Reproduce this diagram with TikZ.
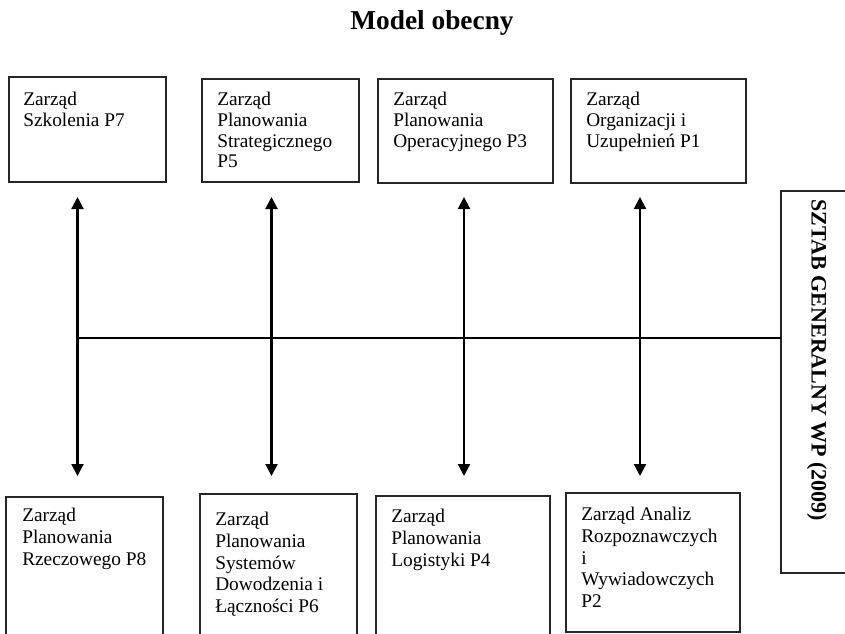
\documentclass[tikz,border=0pt]{standalone}
\usepackage{fontspec}
\setmainfont{Liberation Serif}
\usetikzlibrary{arrows.meta}
\begin{document}
\begin{tikzpicture}[x=0.75pt,y=-0.75pt,
  box/.style={draw=black!85, line width=0.8pt, inner sep=0pt, outer sep=0pt, anchor=north west},
  lbl/.style={anchor=north west, inner sep=0pt, align=left, font=\fontsize{14.5}{15.5}\selectfont},
  lblb/.style={lbl, font=\fontsize{14.5}{16.25}\selectfont},
  tip/.style={Triangle[width=9pt,length=9pt]},
  arr/.style={line width=1.6pt, {Triangle[width=9pt,length=9pt]}-{Triangle[width=9pt,length=9pt]}},
  arrup/.style={line width=1.6pt, -{Triangle[width=9pt,length=9pt]}},
  thinline/.style={line width=0.8pt}]
\useasboundingbox (0,0) rectangle (845,633);
\clip (0,0) rectangle (845,633);

% title
\node[anchor=base, inner sep=0pt] (title) at (432,29) {\bfseries\fontsize{20.5}{24}\selectfont Model obecny};

% top boxes
\node[box, minimum width=157*0.75pt, minimum height=105*0.75pt] (b1) at (9,77) {};
\node[box, minimum width=157*0.75pt, minimum height=103*0.75pt] (b2) at (202,79) {};
\node[box, minimum width=175*0.75pt, minimum height=104*0.75pt] (b3) at (378,79) {};
\node[box, minimum width=175*0.75pt, minimum height=104*0.75pt] (b4) at (571,79) {};

\node[lbl] (t1) at (23,92) {Zarząd\\Szkolenia P7};
\node[lbl] (t2) at (217,92) {Zarząd\\Planowania\\Strategicznego\\P5};
\node[lbl] (t3) at (393,92) {Zarząd\\Planowania\\Operacyjnego P3};
\node[lbl] (t4) at (586,92) {Zarząd\\Organizacji i\\Uzupełnień P1};

% bottom boxes
\node[box, minimum width=157*0.75pt, minimum height=160*0.75pt] (b5) at (6,497) {};
\node[box, minimum width=157*0.75pt, minimum height=160*0.75pt] (b6) at (200,494) {};
\node[box, minimum width=174*0.75pt, minimum height=160*0.75pt] (b7) at (376,496) {};
\node[box, minimum width=174*0.75pt, minimum height=139*0.75pt] (b8) at (566,493) {};

\node[lblb] (t5) at (22,508) {Zarząd\\Planowania\\Rzeczowego P8};
\node[lblb] (t6) at (215,512) {Zarząd\\Planowania\\Systemów\\Dowodzenia i\\Łączności P6};
\node[lblb] (t7) at (391,509) {Zarząd\\Planowania\\Logistyki P4};
\node[lblb] (t8) at (581,507) {Zarząd Analiz\\Rozpoznawczych\\i\\Wywiadowczych\\P2};

% right box
\node[box, minimum width=100*0.75pt, minimum height=382*0.75pt] (sz) at (781,191) {};
\node[rotate=-90, inner sep=0pt] (szt) at (817,360.5) {\bfseries\fontsize{16.5}{19}\selectfont SZTAB GENERALNY WP (2009)};

% arrow ends
\coordinate (a1t) at (77.5,197);  \coordinate (a1b) at (77.5,476);
\coordinate (a2t) at (271.5,197); \coordinate (a2b) at (271.5,476);
\coordinate (a3t) at (464,197);   \coordinate (a3b) at (464,476);
\coordinate (a4t) at (640,197);   \coordinate (a4b) at (640,476);
\coordinate (h4) at (640,338);    \coordinate (k4) at (640,267);
\coordinate (h0) at (77.5,338);

% horizontal line
\draw[thinline] (h0) -- (h0 -| sz.west);

% arrows
\draw[arr] (a1b) -- (a1t);
\draw[arr] (a2b) -- (a2t);
\draw[arr] (a3b) -- (a3t);
\draw[arrup] (h4) -- (a4b);
\draw[thinline] (h4) -- (k4);
\draw[arrup] (k4) -- (a4t);
\end{tikzpicture}
\end{document}
